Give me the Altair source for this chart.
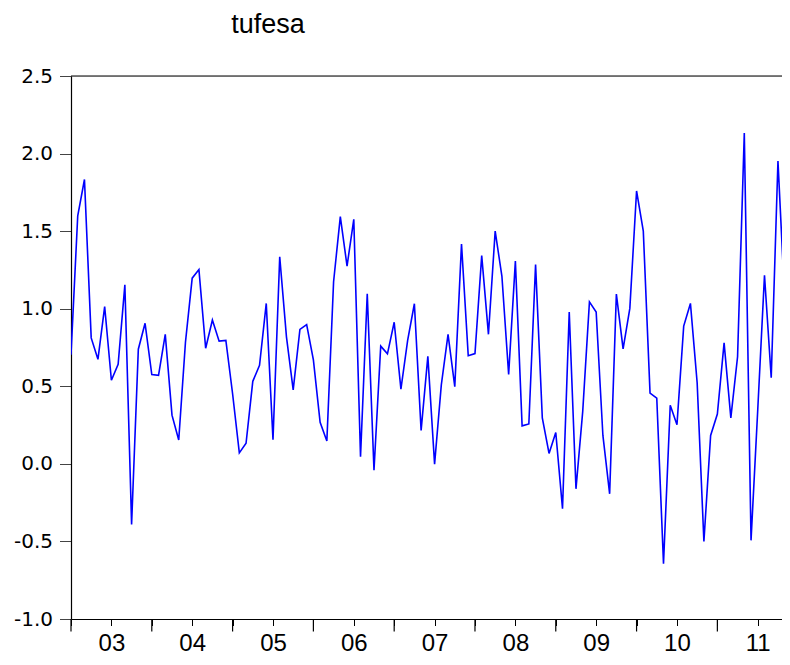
import json
import altair as alt
import pandas as pd

TITLE = "tufesa"
# monthly observations, Jan 2003 onward
VALUES = [
    0.704, 1.599, 1.833, 0.812, 0.674, 1.014, 0.539, 0.642, 1.154, -0.390, 0.739, 0.906,
    0.576, 0.571, 0.835, 0.314, 0.154, 0.784, 1.197, 1.252, 0.745, 0.927, 0.791, 0.796,
    0.452, 0.071, 0.133, 0.532, 0.635, 1.034, 0.156, 1.335, 0.819, 0.477, 0.867, 0.897,
    0.670, 0.268, 0.147, 1.174, 1.594, 1.275, 1.576, 0.046, 1.096, -0.041, 0.759, 0.709,
    0.913, 0.482, 0.796, 1.032, 0.216, 0.693, -0.002, 0.509, 0.835, 0.498, 1.417, 0.697,
    0.711, 1.342, 0.835, 1.500, 1.209, 0.576, 1.307, 0.245, 0.257, 1.284, 0.296, 0.067,
    0.202, -0.289, 0.979, -0.161, 0.337, 1.044, 0.979, 0.183, -0.193, 1.094, 0.741, 1.002,
    1.759, 1.500, 0.456, 0.424, -0.644, 0.378, 0.252, 0.888, 1.034, 0.521, -0.500, 0.183,
    0.321, 0.780, 0.296, 0.690, 2.133, -0.493, 0.350, 1.216, 0.555, 1.952, 1.060,
]
YEAR_LABELS = ["03", "04", "05", "06", "07", "08", "09", "10", "11"]
Y_TICKS = [-1.0, -0.5, 0.0, 0.5, 1.0, 1.5, 2.0, 2.5]
X_MAX = 105.6  # last visible month position

W, H = 711, 543

df = pd.DataFrame({"t": list(range(len(VALUES))), "v": VALUES})
years_df = pd.DataFrame({"t": [12 * i for i in range(len(YEAR_LABELS))]})
title_df = pd.DataFrame({"label": [TITLE]})

xscale = alt.Scale(domain=[0, X_MAX], nice=False, zero=False)
yscale = alt.Scale(domain=[-1.0, 2.5], nice=False, zero=False)

label_expr = (
    "datum.value % 12 == 6 ? " + json.dumps(YEAR_LABELS) + "[floor(datum.value / 12)] : ''"
)

xaxis = alt.Axis(
    values=list(range(0, 106, 3)),
    tickSize=6.5,
    tickColor="#000",
    domainColor="#000",
    domainWidth=1.2,
    labelExpr=label_expr,
    labelFont="Liberation Sans",
    labelFontSize=24,
    labelColor="#000",
    labelPadding=5.5,
    labelOverlap=False,
    labelFlush=False,
    grid=False,
    title=None,
)
yaxis = alt.Axis(
    values=Y_TICKS,
    labelExpr="(datum.value < 0 ? '-' : '') + format(abs(datum.value), '.1f')",
    tickSize=11.5,
    tickColor="#444",
    domainColor="#000",
    domainWidth=1.2,
    labelFont="DejaVu Sans",
    labelFontSize=20,
    labelColor="#000",
    labelPadding=7,
    grid=False,
    title=None,
)

line = alt.Chart(df).mark_line(color="#0000FF", strokeWidth=1.6, clip=True).encode(
    x=alt.X("t:Q", scale=xscale, axis=xaxis),
    y=alt.Y("v:Q", scale=yscale, axis=yaxis),
)

major_ticks = alt.Chart(years_df).mark_rule(color="#000", strokeWidth=1.2).encode(
    x=alt.X("t:Q", scale=xscale),
    y=alt.value(H),
    y2=alt.value(H + 12.5),
)

top_border = alt.Chart(title_df).mark_rule(color="#000", strokeWidth=1.2).encode(
    x=alt.value(0), x2=alt.value(W + 5), y=alt.value(0)
)

title = alt.Chart(title_df).mark_text(
    font="Liberation Sans", fontSize=27, color="#000", align="center", baseline="alphabetic"
).encode(
    text="label:N",
    x=alt.value(197),
    y=alt.value(-43.5),
)

chart = (
    alt.layer(line, major_ticks, top_border, title)
    .properties(
        width=W,
        height=H,
        padding={"left": 63, "top": 68, "right": 0, "bottom": 38},
        autosize=alt.AutoSizeParams(type="none"),
    )
    .configure_view(stroke=None)
    .configure(background="white")
)

chart.save("out.html", embed_options={"renderer": "svg", "actions": False})
